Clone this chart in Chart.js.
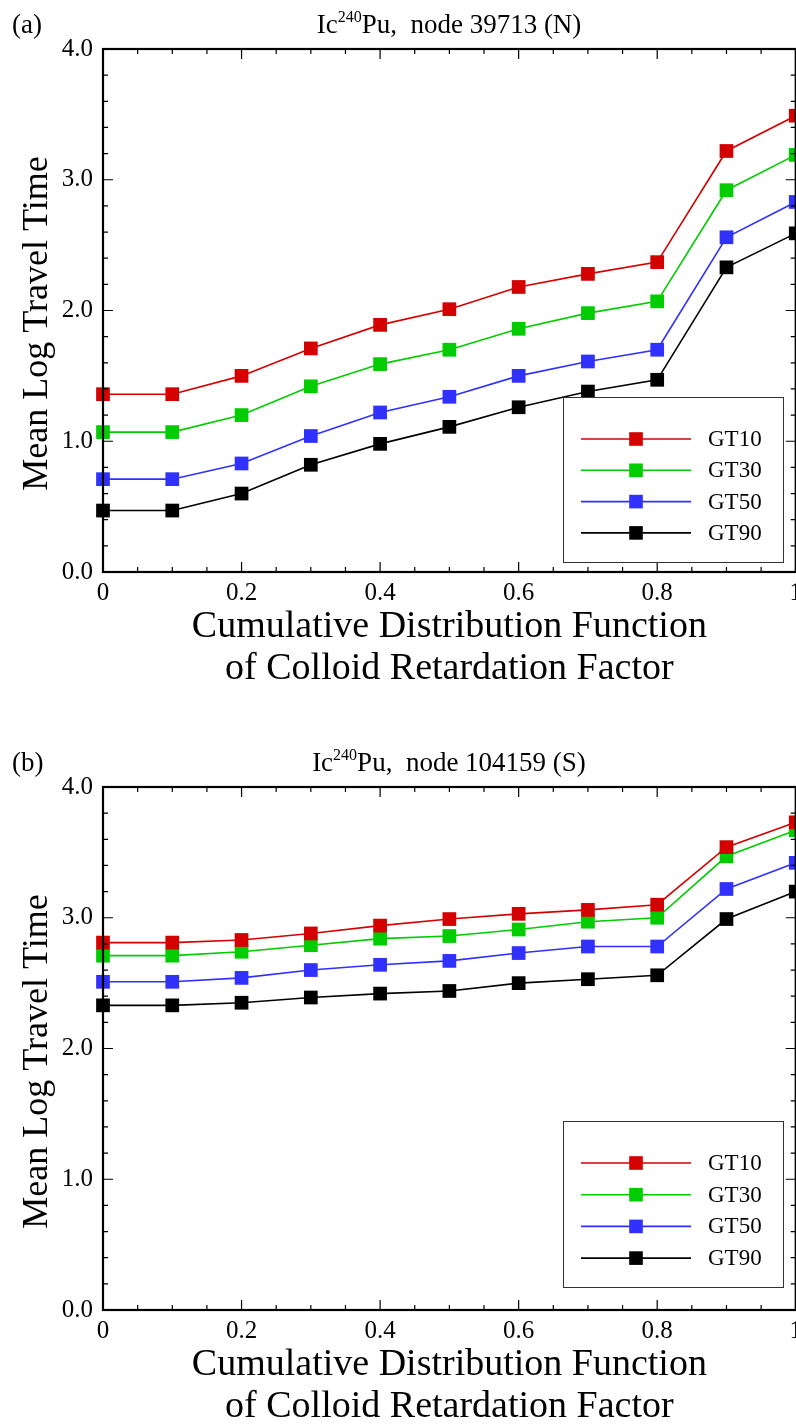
<!DOCTYPE html>
<html>
<head>
<meta charset="utf-8">
<script src="https://cdn.jsdelivr.net/npm/chart.js@4"></script>
<style>
    html, body { margin: 0; padding: 0; background: #fff; overflow: hidden; }
    #page { position: relative; width: 796px; height: 1426px; overflow: hidden; }
    .panel { position: absolute; left: 0; width: 796px; height: 740px; overflow: hidden; }
    .panel canvas { position: absolute; left: 0; top: 0; }
    .tag, .title {
        position: absolute; font-family: "Liberation Serif", "Times New Roman", serif;
        font-size: 27px; color: #000; line-height: 30px; white-space: nowrap;
    }
    .tag { left: 12px; top: 9px; }
    .title { left: 103px; width: 692px; top: 9px; text-align: center; }
    .title sup { font-size: 16px; position: relative; top: -1px; vertical-align: super; line-height: 0; }
</style>
</head>
<body>
<div id="page">
    <div class="panel" style="top:0px">
        <canvas id="chartA" width="808" height="740"></canvas>
        <div class="tag">(a)</div>
        <div class="title">Ic<sup>240</sup>Pu,&nbsp; node 39713 (N)</div>
    </div>
    <div class="panel" style="top:738px">
        <canvas id="chartB" width="808" height="740"></canvas>
        <div class="tag">(b)</div>
        <div class="title">Ic<sup>240</sup>Pu,&nbsp; node 104159 (S)</div>
    </div>
</div>
<script>
// CDF of colloid retardation factor (x values)
const cdf = [0, 0.1, 0.2, 0.3, 0.4, 0.5, 0.6, 0.7, 0.8, 0.9, 1.0];
const seriesNames = ['GT10', 'GT30', 'GT50', 'GT90'];
const seriesColors = ['#d40000', '#00cc00', '#3030ff', '#000000'];

// (a) node 39713 (N)
const northGT10 = [1.36, 1.36, 1.50, 1.71, 1.89, 2.01, 2.18, 2.28, 2.37, 3.22, 3.49];
const northGT30 = [1.07, 1.07, 1.20, 1.42, 1.59, 1.70, 1.86, 1.98, 2.07, 2.92, 3.19];
const northGT50 = [0.71, 0.71, 0.83, 1.04, 1.22, 1.34, 1.50, 1.61, 1.70, 2.56, 2.83];
const northGT90 = [0.47, 0.47, 0.60, 0.82, 0.98, 1.11, 1.26, 1.38, 1.47, 2.33, 2.59];

// (b) node 104159 (S)
const southGT10 = [2.81, 2.81, 2.83, 2.88, 2.94, 2.99, 3.03, 3.06, 3.10, 3.54, 3.73];
const southGT30 = [2.71, 2.71, 2.74, 2.79, 2.84, 2.86, 2.91, 2.97, 3.00, 3.47, 3.67];
const southGT50 = [2.51, 2.51, 2.54, 2.60, 2.64, 2.67, 2.73, 2.78, 2.78, 3.22, 3.42];
const southGT90 = [2.33, 2.33, 2.35, 2.39, 2.42, 2.44, 2.50, 2.53, 2.56, 2.99, 3.20];

// axis ticks
const xTicks = [0, 0.2, 0.4, 0.6, 0.8, 1.0];
const xTickLabels = ['0', '0.2', '0.4', '0.6', '0.8', '1'];
const yTicks = [0, 1, 2, 3, 4];
const yTickLabels = ['0.0', '1.0', '2.0', '3.0', '4.0'];

const SERIF = '"Liberation Serif", "Times New Roman", serif';

function makeDatasets(values) {
    return values.map((vals, i) => ({
        label: seriesNames[i],
        data: cdf.map((x, j) => ({ x: x, y: vals[j] })),
        borderColor: seriesColors[i],
        backgroundColor: seriesColors[i],
        borderWidth: 1.6,
        pointStyle: 'rect',
        pointRadius: 9.7,
        pointHoverRadius: 9.7,
        pointBorderWidth: 0,
        tension: 0,
        clip: false
    }));
}

// frame + inward ticks on all four sides, and the y axis title
const framePlugin = {
    id: 'frame',
    afterDatasetsDraw(chart) {
        const { ctx, chartArea: a, scales: { x, y } } = chart;
        ctx.save();
        ctx.strokeStyle = '#000';
        ctx.lineWidth = 1.2;
        ctx.beginPath();
        for (let v = 0; v <= 1.0001; v += 0.05) {
            const px = x.getPixelForValue(v);
            const major = Math.abs(v * 5 - Math.round(v * 5)) < 1e-6;
            const len = major ? 10 : 5;
            ctx.moveTo(px, a.bottom); ctx.lineTo(px, a.bottom - len);
            ctx.moveTo(px, a.top); ctx.lineTo(px, a.top + len);
        }
        for (let v = 0; v <= 4.0001; v += 0.2) {
            const py = y.getPixelForValue(v);
            const major = Math.abs(v - Math.round(v)) < 1e-6;
            const len = major ? 10 : 5;
            ctx.moveTo(a.left, py); ctx.lineTo(a.left + len, py);
            ctx.moveTo(a.right, py); ctx.lineTo(a.right - len, py);
        }
        ctx.stroke();
        ctx.lineWidth = 2.2;
        ctx.strokeRect(a.left, a.top, a.right - a.left, a.bottom - a.top);

        // y title, sits a little below the middle of the plot like the original
        ctx.translate(38, (a.top + a.bottom) / 2 + 13);
        ctx.rotate(-Math.PI / 2);
        ctx.font = '36px ' + SERIF;
        ctx.fillStyle = '#000';
        ctx.textAlign = 'center';
        ctx.textBaseline = 'middle';
        ctx.fillText('Mean Log Travel Time', 0, 0);
        ctx.restore();
    }
};

// boxed legend inside the plot
const boxLegendPlugin = {
    id: 'boxLegend',
    afterDraw(chart, args, opts) {
        const { ctx } = chart;
        ctx.save();
        ctx.fillStyle = '#fff';
        ctx.fillRect(opts.left, opts.top, opts.right - opts.left, opts.bottom - opts.top);
        ctx.strokeStyle = '#333';
        ctx.lineWidth = 1;
        ctx.strokeRect(opts.left + 0.5, opts.top + 0.5, opts.right - opts.left, opts.bottom - opts.top);
        ctx.font = '23px ' + SERIF;
        ctx.textBaseline = 'middle';
        chart.data.datasets.forEach((ds, i) => {
            const ry = opts.firstRow + i * opts.rowGap;
            ctx.strokeStyle = ds.borderColor;
            ctx.lineWidth = 1.6;
            ctx.beginPath();
            ctx.moveTo(opts.lineStart, ry);
            ctx.lineTo(opts.lineEnd, ry);
            ctx.stroke();
            const mid = (opts.lineStart + opts.lineEnd) / 2;
            ctx.fillStyle = ds.backgroundColor;
            ctx.fillRect(mid - 6.8, ry - 6.8, 13.6, 13.6);
            ctx.fillStyle = '#000';
            ctx.fillText(ds.label, opts.textX, ry + 1);
        });
        ctx.restore();
    }
};

function makeChart(canvasId, values, legendBox) {
    return new Chart(document.getElementById(canvasId), {
        type: 'line',
        data: { datasets: makeDatasets(values) },
        plugins: [framePlugin, boxLegendPlugin],
        options: {
            responsive: false,
            animation: false,
            layout: { padding: { top: 49, right: 1, left: 0, bottom: 50 } },
            plugins: {
                legend: { display: false },
                tooltip: { enabled: false },
                boxLegend: legendBox
            },
            scales: {
                x: {
                    type: 'linear',
                    min: 0,
                    max: 1,
                    afterFit: s => { s.height = 118; },
                    afterBuildTicks: s => { s.ticks = xTicks.map(v => ({ value: v })); },
                    ticks: {
                        padding: 6,
                        color: '#000',
                        font: { family: SERIF, size: 25 },
                        maxRotation: 0,
                        autoSkip: false,
                        callback: v => xTickLabels[xTicks.findIndex(t => Math.abs(t - v) < 1e-6)]
                    },
                    grid: { display: false, drawTicks: false },
                    border: { display: false },
                    title: {
                        display: true,
                        text: ['Cumulative Distribution Function', 'of Colloid Retardation Factor'],
                        color: '#000',
                        font: { family: SERIF, size: 38, lineHeight: 1.1 },
                        padding: { top: 0, bottom: 0 }
                    }
                },
                y: {
                    type: 'linear',
                    min: 0,
                    max: 4,
                    afterFit: s => { s.width = 103; },
                    afterBuildTicks: s => { s.ticks = yTicks.map(v => ({ value: v })); },
                    ticks: {
                        padding: 10,
                        color: '#000',
                        font: { family: SERIF, size: 25 },
                        callback: v => yTickLabels[yTicks.indexOf(Math.round(v))]
                    },
                    grid: { display: false, drawTicks: false },
                    border: { display: false },
                    title: { display: false }
                }
            }
        }
    });
}

makeChart('chartA', [northGT10, northGT30, northGT50, northGT90], {
    left: 563, right: 783, top: 397, bottom: 562,
    firstRow: 439, rowGap: 31.3, lineStart: 581, lineEnd: 691, textX: 708
});
makeChart('chartB', [southGT10, southGT30, southGT50, southGT90], {
    left: 563, right: 783, top: 383, bottom: 549,
    firstRow: 425, rowGap: 31.7, lineStart: 581, lineEnd: 691, textX: 708
});
</script>
</body>
</html>
